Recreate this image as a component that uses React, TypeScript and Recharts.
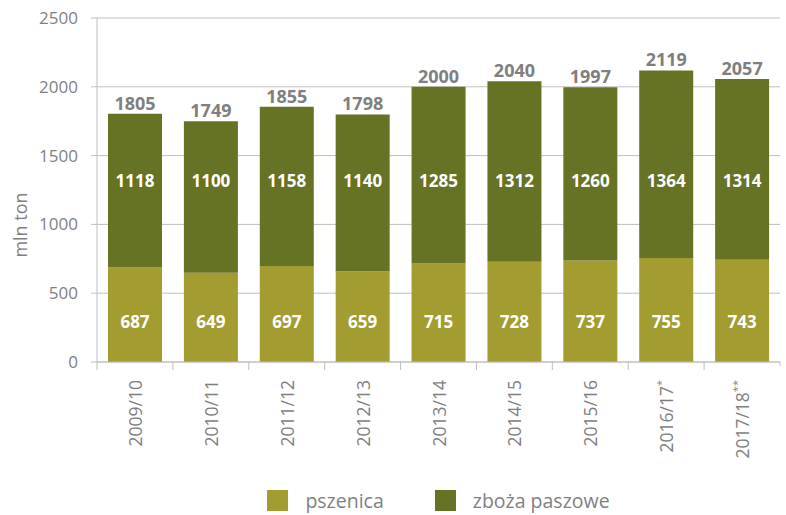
import React from 'react';
import { BarChart, Bar, XAxis, YAxis, CartesianGrid, Legend, LabelList, Label } from 'recharts';

const seasons = ['2009/10', '2010/11', '2011/12', '2012/13', '2013/14', '2014/15', '2015/16', '2016/17', '2017/18'];
const seasonMarks = ['', '', '', '', '', '', '', '*', '**'];
const pszenica = [687, 649, 697, 659, 715, 728, 737, 755, 743];
const zbozaPaszowe = [1118, 1100, 1158, 1140, 1285, 1312, 1260, 1364, 1314];
const totals = [1805, 1749, 1855, 1798, 2000, 2040, 1997, 2119, 2057];
const yTicks = [0, 500, 1000, 1500, 2000, 2500];

const COL_PSZ = '#a39c31';
const COL_ZB = '#667224';
const GRID = '#bfbfbf';
const TXT = '#7f7f7f';
const FONT = '"Open Sans", sans-serif';

const data = seasons.map((s, i) => ({
  season: s,
  pszenica: pszenica[i],
  zboza: zbozaPaszowe[i],
  total: totals[i],
}));

const XTick = (props: any) => {
  const { x, y, index, width } = props;
  const bw = width / seasons.length;
  const mark = seasonMarks[index];
  return (
    <g>
      <line x1={x - bw / 2} x2={x - bw / 2} y1={y - 8} y2={y} stroke={GRID} />
      {index === seasons.length - 1 && (
        <line x1={x + bw / 2} x2={x + bw / 2} y1={y - 8} y2={y - 4} stroke={GRID} />
      )}
      <text
        transform={`translate(${x},${y + 10}) rotate(-90)`}
        textAnchor="end"
        dominantBaseline="central"
        fill={TXT}
        fontSize={17.5}
        fontFamily={FONT}
      >
        {seasons[index]}
        {mark && (
          <tspan fontSize={11} dy={-6}>{mark}</tspan>
        )}
      </text>
    </g>
  );
};

// inner labels sit at a fixed value level (like the original chart)
const innerLabel = (values: number[], base: number[] | null, level: number) => (props: any) => {
  const { viewBox, index } = props;
  const v = values[index];
  const k = viewBox.height / v;
  const zeroY = viewBox.y + viewBox.height + (base ? base[index] * k : 0);
  return (
    <text
      x={viewBox.x + viewBox.width / 2}
      y={zeroY - level * k}
      textAnchor="middle"
      fill="#ffffff"
      fontWeight={700}
      fontSize={17}
      fontFamily={FONT}
    >
      {v}
    </text>
  );
};

const totalLabel = (props: any) => {
  const { viewBox, index } = props;
  return (
    <text
      x={viewBox.x + viewBox.width / 2}
      y={viewBox.y - 4}
      textAnchor="middle"
      fill={TXT}
      fontWeight={700}
      fontSize={18}
      fontFamily={FONT}
    >
      {totals[index]}
    </text>
  );
};

const yLabel = (props: any) => {
  const { viewBox } = props;
  const cx = viewBox.x + 20;
  const cy = viewBox.y + viewBox.height / 2 + 35;
  return (
    <text
      transform={`translate(${cx},${cy}) rotate(-90)`}
      textAnchor="middle"
      dominantBaseline="central"
      fill={TXT}
      fontSize={18}
      fontFamily={FONT}
    >
      mln ton
    </text>
  );
};

const LegendBox = () => (
  <div style={{ display: 'flex', justifyContent: 'center', alignItems: 'center', height: 30, fontFamily: FONT, fontSize: 19.5, color: TXT }}>
    <span style={{ width: 21, height: 21, background: COL_PSZ, display: 'inline-block' }} />
    <span style={{ marginLeft: 17, marginRight: 51 }}>pszenica</span>
    <span style={{ width: 21, height: 21, background: COL_ZB, display: 'inline-block' }} />
    <span style={{ marginLeft: 17 }}>zboża paszowe</span>
  </div>
);

export default function App() {
  return (
    <div style={{ position: 'absolute', left: 0, top: 0, background: '#fff' }}>
      <BarChart width={786} height={515} data={data} margin={{ top: 18, right: 6, left: 0, bottom: 0 }} barCategoryGap="14.5%">
        <CartesianGrid horizontal vertical={false} stroke={GRID} />
        <XAxis
          dataKey="season"
          height={123}
          interval={0}
          tick={<XTick />}
          tickLine={false}
          tickSize={8}
          tickMargin={0}
          axisLine={{ stroke: GRID }}
        />
        <YAxis
          width={97}
          domain={[0, 2500]}
          ticks={yTicks}
          tick={{ fill: TXT, fontSize: 17, fontFamily: FONT }}
          tickLine={{ stroke: GRID }}
          tickSize={6}
          tickMargin={13}
          axisLine={{ stroke: GRID }}
        >
          <Label content={yLabel} />
        </YAxis>
        <YAxis yAxisId="r" orientation="right" width={0} domain={[0, 2500]} tick={false} tickLine={false} axisLine={{ stroke: GRID }} />
        <Legend verticalAlign="bottom" height={30} content={<LegendBox />} wrapperStyle={{ left: 97, width: 683 }} />
        <Bar dataKey="pszenica" name="pszenica" stackId="a" fill={COL_PSZ} isAnimationActive={false}>
          <LabelList content={innerLabel(pszenica, null, 247)} />
        </Bar>
        <Bar dataKey="zboza" name="zboża paszowe" stackId="a" fill={COL_ZB} isAnimationActive={false}>
          <LabelList content={innerLabel(zbozaPaszowe, pszenica, 1272)} />
          <LabelList content={totalLabel} />
        </Bar>
      </BarChart>
    </div>
  );
}
